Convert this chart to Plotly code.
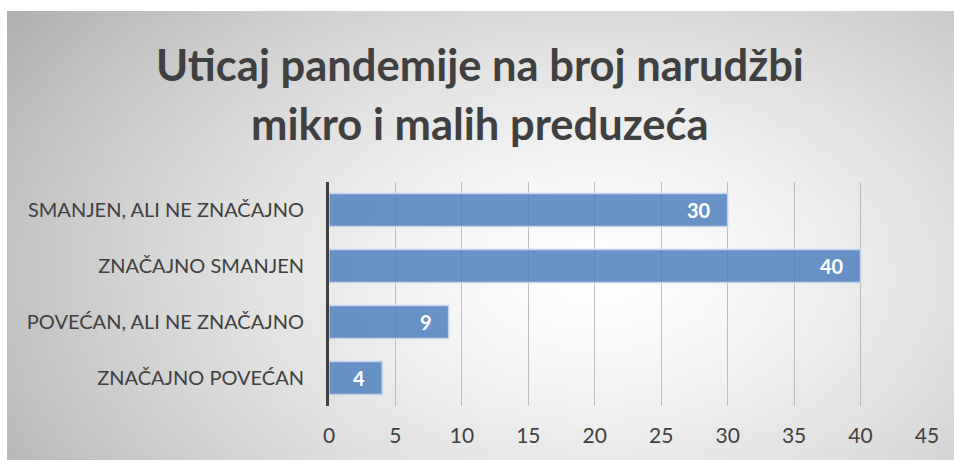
import base64, struct, zlib
import numpy as np
import plotly.graph_objects as go

categories = ["ZNAČAJNO POVEĆAN", "POVEĆAN, ALI NE ZNAČAJNO", "ZNAČAJNO SMANJEN", "SMANJEN, ALI NE ZNAČAJNO"]
values = [4, 9, 40, 30]
x_ticks = [0, 5, 10, 15, 20, 25, 30, 35, 40, 45]
title_lines = ["Uticaj pandemije na broj narudžbi", "mikro i malih preduzeća"]

W, H = 954, 461
FONT = "Lato"
TXT = "#404040"

# radial gradient background image (grayscale PNG)
gw, gh = 190, 90
yy, xx = np.mgrid[0:gh, 0:gw]
cx, cy = 0.62 * gw, 0.58 * gh
d = np.sqrt(((xx - cx) / (0.62 * gw)) ** 2 + ((yy - cy) / (0.85 * gh)) ** 2)
d = np.clip(d, 0, 1.3)
val = np.clip(255 - 60 * d ** 1.4, 0, 255).astype(np.uint8)

def png_gray(arr):
    h, w = arr.shape
    raw = b"".join(b"\x00" + arr[i].tobytes() for i in range(h))
    def chunk(t, data):
        c = struct.pack(">I", len(data)) + t + data
        return c + struct.pack(">I", zlib.crc32(t + data) & 0xffffffff)
    return (b"\x89PNG\r\n\x1a\n" + chunk(b"IHDR", struct.pack(">IIBBBBB", w, h, 8, 0, 0, 0, 0))
            + chunk(b"IDAT", zlib.compress(raw, 9)) + chunk(b"IEND", b""))

bg_uri = "data:image/png;base64," + base64.b64encode(png_gray(val)).decode()

fig = go.Figure()
fig.add_trace(go.Bar(
    y=categories, x=values, orientation="h",
    marker=dict(color="rgba(79,129,189,0.85)", line=dict(color="rgba(195,212,235,0.95)", width=1.5)),
    width=0.59, textposition="none", hoverinfo="skip",
))

# value labels inside bar ends
label_annotations = [
    dict(text=str(v), x=v, y=c, xref="x", yref="y", xanchor="right", yanchor="middle",
         xshift=-15, showarrow=False,
         font=dict(family=FONT, size=20, color="white", weight="bold"))
    for c, v in zip(categories, values)
]

x0, x1 = 329 / W, 927 / W
ytop, ybot = 182, 406

fig.update_layout(
    width=W, height=H,
    margin=dict(l=0, r=0, t=0, b=0, autoexpand=False),
    paper_bgcolor="white", plot_bgcolor="rgba(0,0,0,0)",
    showlegend=False,
    xaxis=dict(domain=[x0, x1], range=[0, 45], tickvals=x_ticks, showgrid=True,
               gridcolor="#bdbdbd", gridwidth=1, zeroline=False, showline=False,
               ticks="", ticklabelstandoff=15, automargin=False,
               tickfont=dict(family=FONT, size=21, color=TXT), fixedrange=True),
    yaxis=dict(domain=[1 - ybot / H, 1 - ytop / H], showgrid=False, zeroline=False,
               showline=True, linecolor="#404040", linewidth=3, ticks="",
               ticklabelstandoff=18, automargin=False,
               tickfont=dict(family=FONT, size=20, color=TXT), fixedrange=True),
    images=[dict(source=bg_uri, xref="paper", yref="paper", x=7 / W, y=1 - 11 / H,
                 sizex=1 - 7 / W, sizey=(460 - 11) / H, sizing="stretch",
                 xanchor="left", yanchor="top", layer="below")],
    annotations=label_annotations + [
        dict(text=title_lines[0], x=480 / W, y=1 - 64 / H, xref="paper", yref="paper",
             xanchor="center", yanchor="middle", showarrow=False,
             font=dict(family=FONT, size=43.5, color=TXT, weight="bold")),
        dict(text=title_lines[1], x=480 / W, y=1 - 123 / H, xref="paper", yref="paper",
             xanchor="center", yanchor="middle", showarrow=False,
             font=dict(family=FONT, size=43.5, color=TXT, weight="bold")),
    ],
)

fig.write_html("out.html", config={"displayModeBar": False},
               post_script="document.body.style.margin='0';document.body.style.overflow='hidden';")
